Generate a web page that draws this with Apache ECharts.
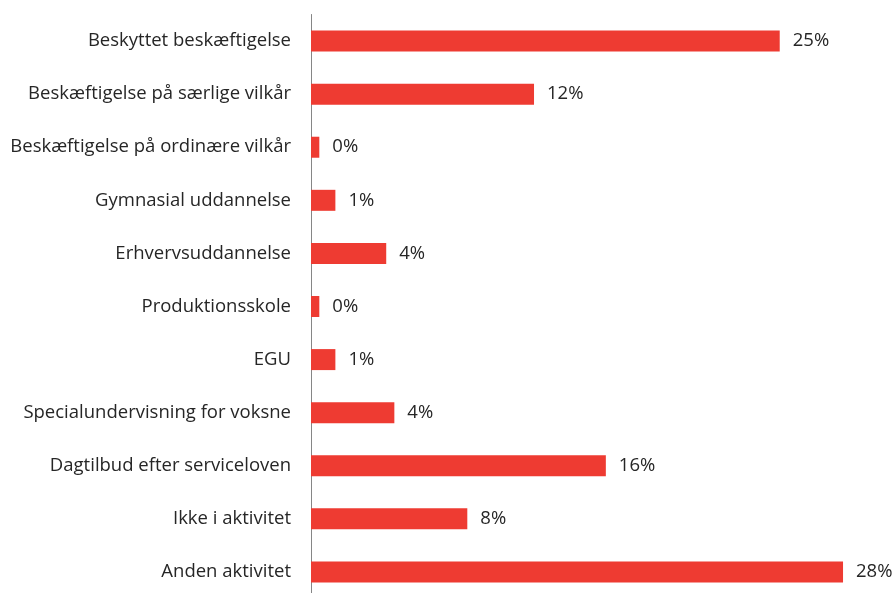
<!DOCTYPE html>
<html>
<head>
<meta charset="utf-8">
<script src="https://cdn.jsdelivr.net/npm/echarts@6/dist/echarts.min.js"></script>
<style>
html,body{margin:0;padding:0;background:#fff;overflow:hidden;}
#c{width:896px;height:600px;}
</style>
</head>
<body>
<div id="c"></div>
<script>
var categories = [
  "Beskyttet beskæftigelse",
  "Beskæftigelse på særlige vilkår",
  "Beskæftigelse på ordinære vilkår",
  "Gymnasial uddannelse",
  "Erhvervsuddannelse",
  "Produktionsskole",
  "EGU",
  "Specialundervisning for voksne",
  "Dagtilbud efter serviceloven",
  "Ikke i aktivitet",
  "Anden aktivitet"
];
var values = [24.8, 11.8, 0.44, 1.29, 3.98, 0.44, 1.29, 4.41, 15.6, 8.27, 28.15];

var chart = echarts.init(document.getElementById('c'));
chart.setOption({
  animation: false,
  grid: { left: 311, right: 18, top: 14.5, height: 584, containLabel: false },
  xAxis: {
    type: 'value', min: 0, max: 30,
    show: false
  },
  yAxis: {
    type: 'category',
    data: categories,
    inverse: true,
    axisLine: { show: true, lineStyle: { color: '#868686', width: 1 } },
    axisTick: { show: false },
    axisLabel: {
      color: '#262626', fontFamily: 'Open Sans', fontSize: 18.5, margin: 20
    }
  },
  series: [{
    type: 'bar',
    data: values,
    barWidth: 21,
    itemStyle: { color: '#EE3B32' },
    label: {
      show: true, position: 'right', distance: 13,
      color: '#262626', fontFamily: 'Open Sans', fontSize: 18.5,
      formatter: function (p) { return Math.round(p.value) + '%'; }
    }
  }]
});
</script>
</body>
</html>
